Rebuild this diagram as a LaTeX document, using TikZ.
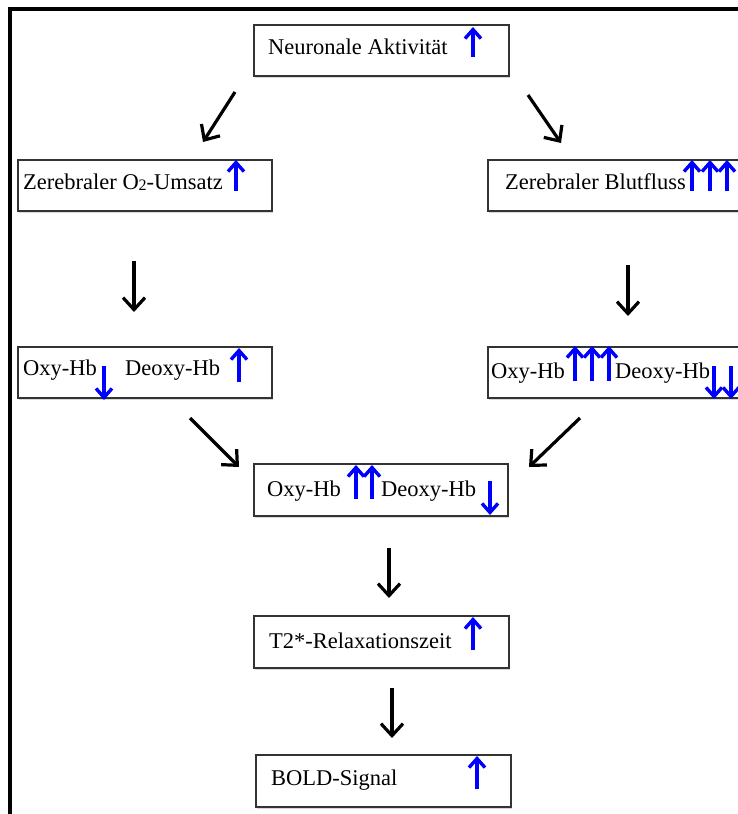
\documentclass[tikz,border=0pt]{standalone}
\usepackage{fontspec}
\setmainfont{Liberation Serif}
\usetikzlibrary{arrows.meta,shadows}
\tikzset{
  box/.style={draw=black!80, line width=1.6pt, fill=white, rectangle, inner sep=0pt,
    drop shadow={opacity=0.3, shadow xshift=1pt, shadow yshift=-2.5pt}},
  lbl/.style={anchor=base west, inner sep=0pt, font=\fontsize{22.5}{26}\selectfont},
  bluearrow/.style={draw=blue, line width=3.4pt, -{Straight Barb[length=9pt,width=16pt,line width=3.4pt]}},
  flow/.style={draw=black, line width=3.2pt, -{Straight Barb[length=12pt,width=22pt,line width=3.2pt]}},
}
\begin{document}
\begin{tikzpicture}[x=1pt,y=-1pt]
\useasboundingbox (0,0) rectangle (738,814);
\clip (0,0) rectangle (738,814);
\fill[white] (0,0) rectangle (738,814);
% frame
\draw[line width=3.5pt] (10,814) -- (10,9) -- (738,9);

% boxes
\node[box, minimum width=255pt, minimum height=51pt, anchor=north west] (b1) at (253,24) {};
\node[box, minimum width=254pt, minimum height=51pt, anchor=north west] (b2) at (17,159) {};
\node[box, minimum width=280pt, minimum height=51pt, anchor=north west] (b3) at (487,159) {};
\node[box, minimum width=254pt, minimum height=51pt, anchor=north west] (b4) at (17,346) {};
\node[box, minimum width=280pt, minimum height=51pt, anchor=north west] (b5) at (487,346) {};
\node[box, minimum width=254pt, minimum height=52pt, anchor=north west] (b6) at (253,463) {};
\node[box, minimum width=255pt, minimum height=52pt, anchor=north west] (b7) at (253,615) {};
\node[box, minimum width=255pt, minimum height=52pt, anchor=north west] (b8) at (255,754) {};

% texts
\node[lbl] (t1) at (268,54) {Neuronale Aktivität};
\node[lbl] (t2) at (23,189) {Zerebraler O{\fontsize{16}{16}\selectfont\raisebox{-1.5pt}{2}}-Umsatz};
\node[lbl] (t3) at (505,189) {Zerebraler Blutfluss};
\node[lbl] (t4a) at (23,375) {Oxy-Hb};
\node[lbl] (t4b) at (125,375) {Deoxy-Hb};
\node[lbl] (t5a) at (491,378) {Oxy-Hb};
\node[lbl] (t5b) at (615,378) {Deoxy-Hb};
\node[lbl] (t6a) at (267,496) {Oxy-Hb};
\node[lbl] (t6b) at (381,496) {Deoxy-Hb};
\node[lbl] (t7) at (269,648) {T2*-Relaxationszeit};
\node[lbl] (t8) at (271,785) {BOLD-Signal};

% blue arrows
\draw[bluearrow] (473,57) -- (473,27);
\draw[bluearrow] (236,191) -- (236,160);
\foreach \x in {692,710,727} \draw[bluearrow] (\x,191) -- (\x,160);
\draw[bluearrow] (104,366) -- (104,400);
\draw[bluearrow] (239,382) -- (239,348);
\foreach \x in {575,592,609} \draw[bluearrow] (\x,381) -- (\x,346);
\foreach \x in {714,731} \draw[bluearrow] (\x,366) -- (\x,399);
\foreach \x in {356,372} \draw[bluearrow] (\x,499) -- (\x,465);
\draw[bluearrow] (490,481) -- (490,515);
\draw[bluearrow] (473,650) -- (473,617);
\draw[bluearrow] (477,789) -- (477,756);

% connector endpoints
\coordinate (c1s) at (235,92);  \coordinate (c1e) at (203,142);
\coordinate (c2s) at (528,95);  \coordinate (c2e) at (561,143);
\coordinate (c3s) at (134,261); \coordinate (c3e) at (134,312);
\coordinate (c4s) at (628,265); \coordinate (c4e) at (628,316);
\coordinate (c5s) at (190,418); \coordinate (c5e) at (239,467);
\coordinate (c6s) at (580,418); \coordinate (c6e) at (529,467);
\coordinate (c7s) at (389,548); \coordinate (c7e) at (389,598);
\coordinate (c8s) at (392,688); \coordinate (c8e) at (392,738);
\foreach \i in {1,...,8} \draw[flow] (c\i s) -- (c\i e);
\end{tikzpicture}
\end{document}
